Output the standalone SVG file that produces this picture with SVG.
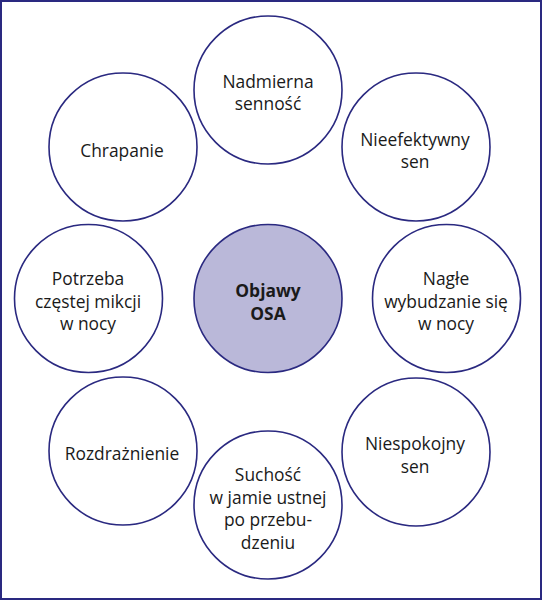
<svg xmlns="http://www.w3.org/2000/svg" width="542" height="600" viewBox="0 0 542 600">
<style>
.c{fill:#ffffff;stroke:#2a2980;stroke-width:1.6}
.m{fill:#bab8d9;stroke:#2a2980;stroke-width:1.6}
text{font-family:"Open Sans","Noto Sans",sans-serif;font-size:17.4px;fill:#1a1a1a;text-anchor:middle}
.b{font-weight:bold}
</style>
<rect x="1" y="1" width="540" height="598" fill="#ffffff" stroke="#2a2980" stroke-width="2"/>
<g id="connectors"></g>
<g id="node-center"><circle class="m" cx="268" cy="298.5" r="74"/><text class="b" x="268" y="297">Objawy</text><text class="b" x="268" y="319.5">OSA</text></g>
<g id="node-nadmierna"><circle class="c" cx="268" cy="90" r="74"/><text x="268" y="88">Nadmierna</text><text x="268" y="110">senność</text></g>
<g id="node-nieefektywny"><circle class="c" cx="416" cy="147" r="74"/><text x="415" y="145.5">Nieefektywny</text><text x="415" y="167.5">sen</text></g>
<g id="node-nagle"><circle class="c" cx="446.5" cy="298.5" r="74"/><text x="446" y="285">Nagłe</text><text x="446" y="307.5">wybudzanie się</text><text x="446" y="330">w nocy</text></g>
<g id="node-niespokojny"><circle class="c" cx="416" cy="452" r="74"/><text x="415" y="449.5">Niespokojny</text><text x="415" y="472.5">sen</text></g>
<g id="node-suchosc"><circle class="c" cx="268" cy="505" r="74"/><text x="268" y="481">Suchość</text><text x="268" y="503.5">w jamie ustnej</text><text x="268" y="526">po przebu-</text><text x="268" y="548.5">dzeniu</text></g>
<g id="node-rozdraznienie"><circle class="c" cx="123" cy="451" r="74"/><text x="122" y="460">Rozdrażnienie</text></g>
<g id="node-potrzeba"><circle class="c" cx="88.5" cy="298.5" r="74"/><text x="88" y="285">Potrzeba</text><text x="88" y="307.5">częstej mikcji</text><text x="88" y="330">w nocy</text></g>
<g id="node-chrapanie"><circle class="c" cx="123" cy="147" r="74"/><text x="122" y="157">Chrapanie</text></g>
</svg>
